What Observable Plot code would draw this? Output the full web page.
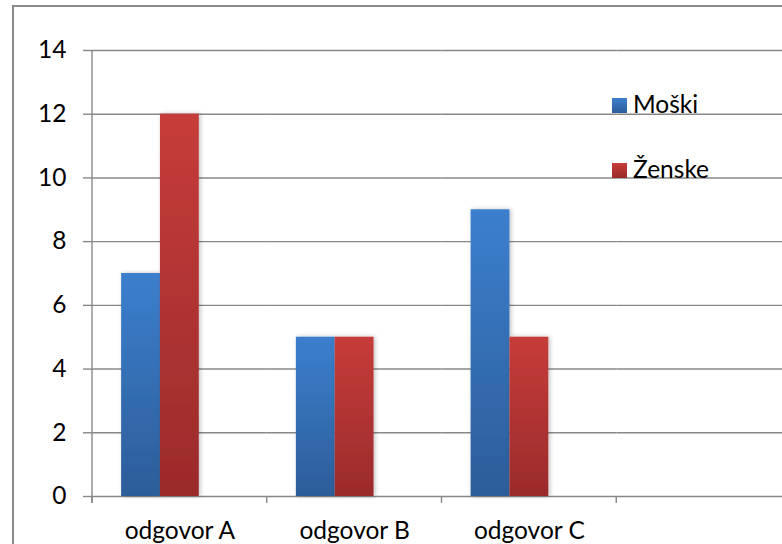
<!DOCTYPE html>
<html><head><meta charset="utf-8">
<script src="https://cdn.jsdelivr.net/npm/d3@7"></script>
<script src="https://cdn.jsdelivr.net/npm/@observablehq/plot@0.6"></script>
<style>
body{margin:0;overflow:hidden;background:#fff;font-family:Lato,sans-serif;}
#wrap{position:relative;width:782px;height:544px;overflow:hidden;}
#frame{position:absolute;left:12px;top:5px;width:820px;height:600px;border:2px solid #8a8a8a;box-sizing:border-box;}
#chart{position:absolute;left:0;top:0;width:800px;height:544px;}
#chart svg{max-width:none !important;}
.item{position:absolute;left:612px;font-size:24.5px;line-height:1;color:#000;white-space:nowrap;}
.sw{display:inline-block;width:15px;height:15px;margin-right:6px;vertical-align:baseline;}
</style></head>
<body>
<div id="wrap">
  <div id="frame"></div>
  <div id="chart"></div>
  <div id="legend"></div>
</div>
<script>
const categories = ["odgovor A", "odgovor B", "odgovor C", ""];
const series = ["Moški", "Ženske", "Niz 3"];
const moski = [7, 5, 9, null];
const zenske = [12, 5, 5, null];
const niz3 = [null, null, null, null];
const yTicks = [0, 2, 4, 6, 8, 10, 12, 14];
const legendSeries = ["Moški", "Ženske"];

const data = [];
categories.forEach((c, i) => {
  data.push({cat: c, series: series[0], value: moski[i]});
  data.push({cat: c, series: series[1], value: zenske[i]});
  data.push({cat: c, series: series[2], value: niz3[i]});
});

const chart = Plot.plot({
  width: 800, height: 544,
  marginTop: 50, marginBottom: 48, marginLeft: 92, marginRight: 9,
  style: {fontFamily: "Lato, sans-serif", fontSize: "24.5px", color: "#000", background: "transparent", overflow: "visible", maxWidth: "none"},
  fx: {domain: categories, padding: 0, round: false, label: null, tickSize: 0, tickPadding: 25},
  x: {domain: series, paddingInner: 0, paddingOuter: 0.75, round: false, axis: null},
  y: {domain: [0, 14], ticks: yTicks, tickSize: 9, tickPadding: 17, label: null},
  color: {domain: series, range: ["url(#gM)", "url(#gZ)", "none"]},
  marks: [
    Plot.ruleY(yTicks, {stroke: "#888888", strokeWidth: 1.4}),
    Plot.barY(data, {fx: "cat", x: "series", y1: 0, y2: "value", fill: "series"})
  ]
});
chart.style.maxWidth = "none";
document.getElementById("chart").appendChild(chart);

const svg = d3.select(chart);
const defs = svg.insert("defs", ":first-child");
function grad(id, c1, c2) {
  const g = defs.append("linearGradient").attr("id", id).attr("x1", 0).attr("y1", 0).attr("x2", 0).attr("y2", 1);
  g.append("stop").attr("offset", "0%").attr("stop-color", c1);
  g.append("stop").attr("offset", "100%").attr("stop-color", c2);
}
grad("gM", "#3C7FCD", "#2C5D99");
grad("gZ", "#C63C3A", "#9A2B2B");
const f = defs.append("filter").attr("id", "sh").attr("x", "-20%").attr("y", "-5%").attr("width", "140%").attr("height", "110%");
f.append("feDropShadow").attr("dx", 1.5).attr("dy", 0).attr("stdDeviation", 2).attr("flood-color", "#000").attr("flood-opacity", 0.25);
svg.selectAll('[aria-label="bar"] rect').attr("filter", "url(#sh)");

// axis styling: gray tick lines
svg.selectAll('[aria-label^="y-axis"] line, [aria-label^="y-axis"] path').attr("stroke", "#888888").attr("stroke-width", 1.4);
svg.selectAll('[aria-label^="y-axis"]').filter(function(){ return this.getAttribute("aria-label").indexOf("label") < 0; }).attr("stroke", "#888888");

// y-axis line and category boundary ticks from the scales
const fx = chart.scale("fx"), y = chart.scale("y");
const bw = fx.bandwidth;
const y0 = y.apply(0), yTop = y.apply(14);
const xs = categories.map(c => fx.apply(c));
xs.push(xs[xs.length - 1] + bw);
const ax = svg.append("g").attr("stroke", "#888888").attr("stroke-width", 1.4);
ax.append("line").attr("x1", xs[0]).attr("x2", xs[0]).attr("y1", yTop).attr("y2", y0 + 7);
xs.forEach(x => ax.append("line").attr("x1", x).attr("x2", x).attr("y1", y0).attr("y2", y0 + 7));

// legend
const colors = {"Moški": "linear-gradient(#3C7FCD,#2C5D99)", "Ženske": "linear-gradient(#C63C3A,#9A2B2B)"};
const tops = [91.8, 156.8];
const lg = document.getElementById("legend");
legendSeries.forEach((s, i) => {
  const d = document.createElement("div");
  d.className = "item";
  d.style.top = tops[i] + "px";
  d.innerHTML = `<span class="sw" style="background:${colors[s]}"></span>${s}`;
  lg.appendChild(d);
});
</script>
</body></html>
